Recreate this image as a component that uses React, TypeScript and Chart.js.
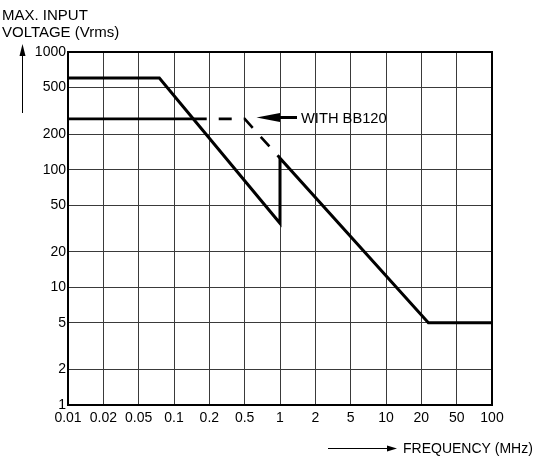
import React, { useEffect, useRef } from "react";
import { Chart, registerables } from "chart.js";

Chart.register(...registerables);

// Frequency axis ticks (MHz) – drawn evenly spaced 1-2-5 steps as in the reference
const xTickValues = [0.01, 0.02, 0.05, 0.1, 0.2, 0.5, 1, 2, 5, 10, 20, 50, 100];
const xTickLabels = ["0.01", "0.02", "0.05", "0.1", "0.2", "0.5", "1", "2", "5", "10", "20", "50", "100"];

// Voltage axis ticks (Vrms), logarithmic
const yTickValues = [1, 2, 5, 10, 20, 50, 100, 200, 500, 1000];
const yTickLabels = ["1", "2", "5", "10", "20", "50", "100", "200", "500", "1000"];

// Standard curve
const stdFreq = [0.01, 0.075, 1, 1, 24, 100];
const stdVolt = [600, 600, 35, 125, 5, 5];

// With BB120 curve (solid, then dashed)
const bbFreq = [0.01, 0.19, 0.5, 1];
const bbVolt = [270, 270, 270, 125];

const FONT = '"Liberation Sans", Arial, Helvetica, sans-serif';

// position of a frequency on the evenly spaced 1-2-5 axis
function freqToPos(f: number): number {
  for (let i = 0; i < xTickValues.length - 1; i++) {
    const a = xTickValues[i];
    const b = xTickValues[i + 1];
    if (f >= a && f <= b) {
      return i + Math.log(f / a) / Math.log(b / a);
    }
  }
  return f < xTickValues[0] ? 0 : xTickValues.length - 1;
}

const annotations = {
  id: "annotations",
  beforeDatasetsDraw(chart: any) {
    const { ctx, chartArea } = chart;
    ctx.save();
    ctx.strokeStyle = "#000";
    ctx.lineWidth = 2;
    ctx.strokeRect(chartArea.left, chartArea.top, chartArea.right - chartArea.left, chartArea.bottom - chartArea.top);
    ctx.restore();
  },
  afterDraw(chart: any) {
    const ctx = chart.ctx as CanvasRenderingContext2D;
    ctx.save();
    ctx.fillStyle = "#000";
    ctx.strokeStyle = "#000";
    ctx.font = `15px ${FONT}`;
    ctx.textBaseline = "alphabetic";
    ctx.textAlign = "left";
    ctx.fillText("MAX. INPUT", 2, 19.5);
    ctx.fillText("VOLTAGE (Vrms)", 2, 37);

    // y axis arrow
    ctx.lineWidth = 1;
    ctx.beginPath();
    ctx.moveTo(22.5, 113);
    ctx.lineTo(22.5, 52);
    ctx.stroke();
    ctx.beginPath();
    ctx.moveTo(22.5, 44);
    ctx.lineTo(25.5, 56);
    ctx.lineTo(19.5, 56);
    ctx.closePath();
    ctx.fill();

    // x axis arrow
    ctx.beginPath();
    ctx.moveTo(328, 448.5);
    ctx.lineTo(390, 448.5);
    ctx.stroke();
    ctx.beginPath();
    ctx.moveTo(397, 448.5);
    ctx.lineTo(387, 445.5);
    ctx.lineTo(387, 451.5);
    ctx.closePath();
    ctx.fill();
    ctx.font = `14px ${FONT}`;
    ctx.fillText("FREQUENCY (MHz)", 403, 453);

    // WITH BB120 callout
    ctx.lineWidth = 3;
    ctx.beginPath();
    ctx.moveTo(276, 117.5);
    ctx.lineTo(297, 117.5);
    ctx.stroke();
    ctx.beginPath();
    ctx.moveTo(256.5, 117.5);
    ctx.lineTo(280, 113);
    ctx.lineTo(280, 122);
    ctx.closePath();
    ctx.fill();
    ctx.font = `14.7px ${FONT}`;
    ctx.fillText("WITH BB120", 301, 122.5);
    ctx.restore();
  },
};

export default function App() {
  const ref = useRef<HTMLCanvasElement | null>(null);

  useEffect(() => {
    document.body.style.margin = "0";
    const canvas = ref.current;
    if (!canvas) return;
    const gridColor = "#3a3a3a";
    const chart = new Chart(canvas, {
      type: "line",
      data: {
        datasets: [
          {
            label: "Standard",
            data: stdFreq.map((f, i) => ({ x: freqToPos(f), y: stdVolt[i] })),
            borderColor: "#000",
            borderWidth: 3,
            pointRadius: 0,
            fill: false,
            tension: 0,
            borderJoinStyle: "miter",
          },
          {
            label: "With BB120",
            data: bbFreq.map((f, i) => ({ x: freqToPos(f), y: bbVolt[i] })),
            borderColor: "#000",
            borderWidth: 2.6,
            pointRadius: 0,
            fill: false,
            tension: 0,
            segment: {
              borderDash: (c: any) => (c.p0DataIndex >= 1 ? [13, 12] : undefined),
              borderDashOffset: (c: any) => (c.p0DataIndex >= 1 ? 13 : 0),
            },
          },
        ],
      },
      options: {
        responsive: false,
        animation: false,
        devicePixelRatio: 1,
        layout: { padding: { left: 0, top: 52, right: 44, bottom: 0 } },
        plugins: { legend: { display: false }, tooltip: { enabled: false } },
        scales: {
          x: {
            type: "linear",
            min: 0,
            max: xTickValues.length - 1,
            afterBuildTicks: (scale: any) => {
              scale.ticks = xTickValues.map((_, i) => ({ value: i }));
            },
            afterFit: (scale: any) => {
              scale.height = 51;
            },
            grid: { color: gridColor, lineWidth: 1, drawTicks: false },
            border: { display: false },
            ticks: {
              autoSkip: false,
              maxRotation: 0,
              padding: 5,
              color: "#000",
              font: { family: FONT, size: 14 },
              callback: (v: any) => xTickLabels[Math.round(v)] ?? "",
            },
          },
          y: {
            type: "logarithmic",
            min: 1,
            max: 1000,
            afterBuildTicks: (scale: any) => {
              scale.ticks = yTickValues.map((v) => ({ value: v }));
            },
            afterFit: (scale: any) => {
              scale.width = 68;
            },
            grid: { color: gridColor, lineWidth: 1, drawTicks: false },
            border: { display: false },
            ticks: {
              autoSkip: false,
              padding: 2,
              color: "#000",
              font: { family: FONT, size: 14 },
              callback: (v: any) => {
                const i = yTickValues.indexOf(Number(v));
                return i >= 0 ? yTickLabels[i] : "";
              },
            },
          },
        },
      },
      plugins: [annotations],
    } as any);
    return () => chart.destroy();
  }, []);

  return <canvas ref={ref} width={536} height={456} style={{ display: "block" }} />;
}
